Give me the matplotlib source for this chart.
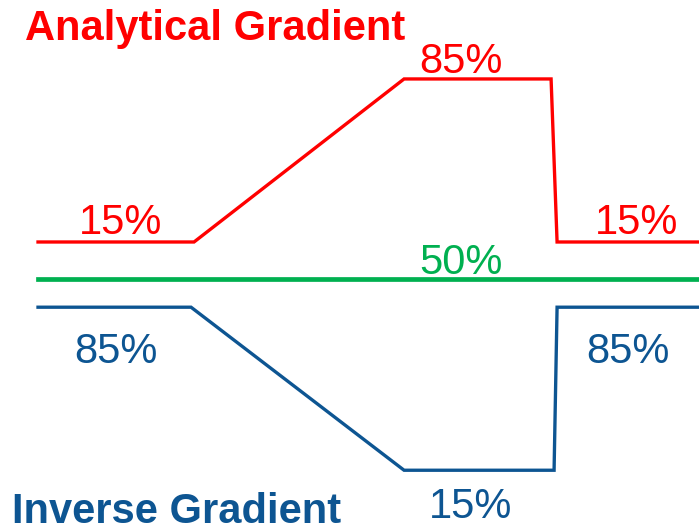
import matplotlib.pyplot as plt
from matplotlib.transforms import ScaledTranslation

plt.rcParams['font.family'] = ['Liberation Sans', 'DejaVu Sans']

# gradient program: time points (min) and %B
t_red = [0, 5.2, 12.2, 17.1, 17.3, 22]
red_pct = [15, 15, 85, 85, 15, 15]
t_blue = [0, 5.1, 12.2, 17.2, 17.3, 22]
blue_pct = [85, 85, 15, 15, 85, 85]
t_green = [0, 22]
green_pct = [50, 50]

RED = '#FF0000'
GREEN = '#00B050'
BLUE = '#0D5592'

fig = plt.figure(figsize=(6.99, 5.28), dpi=100)
ax = fig.add_axes([0, 0, 1, 1])
ax.set_xlim(-1.267, 22.03)
ax.set_ylim(-107.8, 118.9)
ax.axis('off')

def shifted(dy):
    # move a trace down by dy percent units on the shared scale
    return ax.transData + ScaledTranslation(0, -dy * (5.28 / 226.7), fig.dpi_scale_trans)

ax.plot(t_red, red_pct, color=RED, lw=2.4, solid_joinstyle='miter')
ax.plot(t_green, green_pct, color=GREEN, lw=3.4, transform=shifted(51))
ax.plot(t_blue, blue_pct, color=BLUE, lw=2.4, solid_joinstyle='miter', transform=shifted(98))

fs = 30
# red labels above the line
ax.annotate(f'{red_pct[0]}%', (2.75, red_pct[0]), xytext=(0, -1), textcoords='offset points',
            ha='center', va='bottom', color=RED, fontsize=fs)
ax.annotate(f'{red_pct[2]}%', (14.1, red_pct[2]), xytext=(0, -2), textcoords='offset points',
            ha='center', va='bottom', color=RED, fontsize=fs)
ax.annotate(f'{red_pct[-1]}%', (19.95, red_pct[-1]), xytext=(0, -1), textcoords='offset points',
            ha='center', va='bottom', color=RED, fontsize=fs)
# green label
ax.annotate(f'{green_pct[0]}%', (14.1, green_pct[0]), xytext=(0, -3), textcoords='offset points',
            ha='center', va='bottom', color=GREEN, fontsize=fs, xycoords=shifted(51))
# blue labels below the line
ax.annotate(f'{blue_pct[0]}%', (2.6, blue_pct[0]), xytext=(0, -18), textcoords='offset points',
            ha='center', va='top', color=BLUE, fontsize=fs, xycoords=shifted(98))
ax.annotate(f'{blue_pct[2]}%', (14.4, blue_pct[2]), xytext=(0, -12), textcoords='offset points',
            ha='center', va='top', color=BLUE, fontsize=fs, xycoords=shifted(98))
ax.annotate(f'{blue_pct[-1]}%', (19.65, blue_pct[-1]), xytext=(0, -18), textcoords='offset points',
            ha='center', va='top', color=BLUE, fontsize=fs, xycoords=shifted(98))

fig.text(25 / 699, 1 - 9 / 528, 'Analytical Gradient', color=RED, fontsize=fs,
         fontweight='bold', ha='left', va='top')
fig.text(12 / 699, 1 - 492 / 528, 'Inverse Gradient', color=BLUE, fontsize=fs,
         fontweight='bold', ha='left', va='top')

fig.savefig('out.png', dpi=100)
